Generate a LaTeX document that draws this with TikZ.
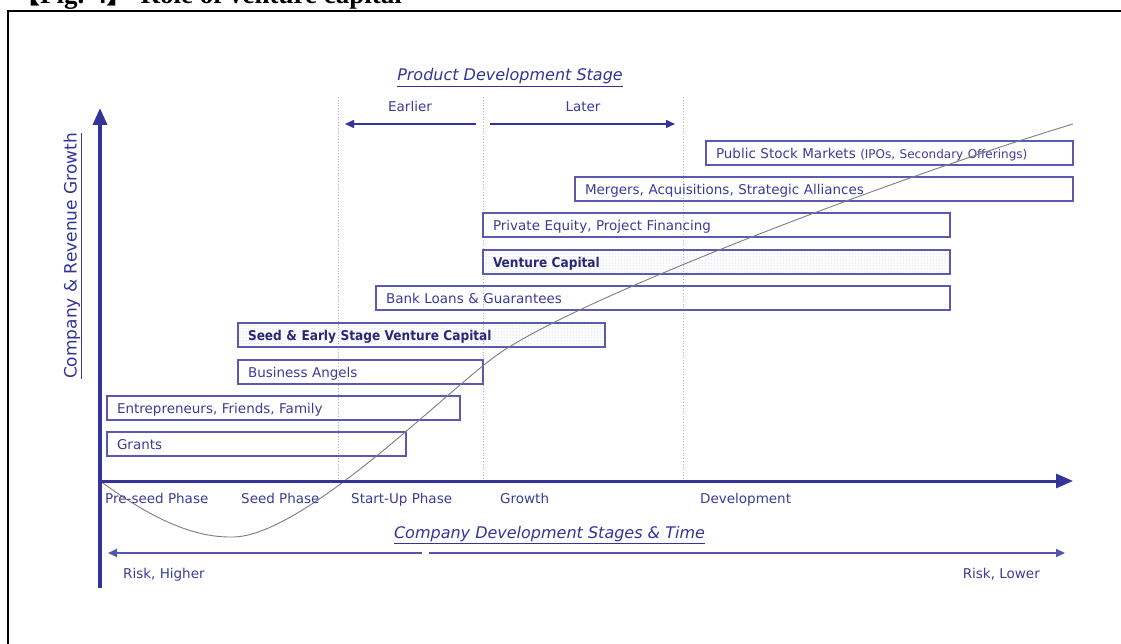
\documentclass[tikz,border=0pt]{standalone}
\usepackage{fontspec}
\setmainfont{DejaVu Sans}
\newfontfamily\condfont{DejaVu Sans Condensed}
\newfontfamily\titlefont{Liberation Serif}
\newfontfamily\cjkfont{Noto Sans CJK SC}
\usetikzlibrary{arrows.meta,patterns}
\definecolor{navy}{RGB}{51,51,153}
\definecolor{boxblue}{RGB}{90,90,175}
\definecolor{txtblue}{RGB}{60,60,150}
\definecolor{darktxt}{RGB}{40,40,120}
\definecolor{dotline}{RGB}{175,175,220}
\definecolor{curvegray}{RGB}{125,125,125}
\definecolor{patblue}{RGB}{175,175,205}
\definecolor{riskblue}{RGB}{85,85,170}
\begin{document}
\begin{tikzpicture}[x=1pt,y=-1pt,
  box/.style={draw=boxblue, line width=1.1pt, minimum height=24pt, inner xsep=10pt, inner ysep=0pt,
    text height=12.5pt, text depth=1.5pt,
    anchor=north west, align=left, text=txtblue, outer sep=0pt,
    font=\fontsize{13.5}{16}\selectfont},
  dotbox/.style={box, pattern=dots, pattern color=patblue, text=darktxt,
    font=\condfont\bfseries\fontsize{13.5}{16}\selectfont},
  lbl/.style={text=txtblue, inner sep=0pt, font=\fontsize{13.5}{16}\selectfont},
  head/.style={text=navy, inner sep=0pt, font=\itshape\fontsize{16}{19}\selectfont},
  vline/.style={dotline, dotted, line width=0.8pt},
  smallarrow/.style={navy, line width=1.5pt, -{Triangle[length=9pt,width=8pt]}},
  riskarrow/.style={riskblue, line width=2pt, -{Triangle[length=9pt,width=8pt]}},
  axis/.style={navy, line width=3.5pt, -{Triangle[length=17pt,width=14pt]}}
]
\useasboundingbox (0,0) rectangle (1121,644);
\fill[white] (0,0) rectangle (1121,644);

% frame and cut title
\coordinate (fbl) at (8,660);
\coordinate (ftl) at (8,11);
\coordinate (ftr) at (1135,11);
\draw[black, line width=1.3pt] (fbl) -- (ftl) -- (ftr);
\node[anchor=base west, inner sep=0pt, font=\titlefont\bfseries\fontsize{27}{30}\selectfont] (title) at (13,3.5)
  {{\cjkfont 【}Fig. 4{\cjkfont 】} Role of venture capital};

% dotted stage lines
\coordinate (v1t) at (338,97); \coordinate (v1b) at (338,481);
\coordinate (v2t) at (483,97); \coordinate (v2b) at (483,481);
\coordinate (v3t) at (683,97); \coordinate (v3b) at (683,481);
\draw[vline] (v1t) -- (v1b);
\draw[vline] (v2t) -- (v2b);
\draw[vline] (v3t) -- (v3b);

% headings
\node[head, anchor=base] (pds) at (510,81) {\underline{Product Development Stage}};
\node[lbl, anchor=base] (earlier) at (410,111.5) {Earlier};
\node[lbl, anchor=base] (later) at (583,111.5) {Later};
\coordinate (ea1) at (476,124); \coordinate (ea2) at (345,124);
\coordinate (la1) at (490,124); \coordinate (la2) at (675,124);
\draw[smallarrow] (ea1) -- (ea2);
\draw[smallarrow] (la1) -- (la2);

% financing boxes
\node[box, text width=347pt] (psm) at (706,141)
  {Public Stock Markets {\fontsize{12}{14}\selectfont(IPOs, Secondary Offerings)}};
\node[box, text width=478pt] (mas) at (575,177) {Mergers, Acquisitions, Strategic Alliances};
\node[box, text width=447pt] (pe) at (483,213) {Private Equity, Project Financing};
\node[dotbox, text width=447pt] (vc) at (483,250) {Venture Capital};
\node[box, text width=554pt] (bank) at (376,286) {Bank Loans \& Guarantees};
\node[dotbox, text width=347pt] (seed) at (238,323) {Seed \& Early Stage Venture Capital};
\node[box, text width=225pt] (ba) at (238,360) {Business Angels};
\node[box, text width=333pt] (eff) at (107,396) {Entrepreneurs, Friends, Family};
\node[box, text width=279pt] (grants) at (107,432) {Grants};

% growth curve
\coordinate (c0) at (100,481);
\coordinate (c1) at (230,537);
\coordinate (c2) at (497,355);
\coordinate (c3) at (1073,124);
\draw[curvegray, line width=0.9pt]
  (c0) .. controls (140,510) and (185,537) .. (c1)
       .. controls (300,540) and (445,392) .. (c2)
       .. controls (577,298) and (900,176) .. (c3);

% axes
\coordinate (ybot) at (100,588);
\coordinate (ytop) at (100,108);
\coordinate (xorg) at (98.25,481);
\coordinate (xend) at (1073,481);
\draw[axis] (ybot) -- (ytop);
\draw[axis, line width=3pt] (xorg) -- (xend);
\node[head, rotate=90, anchor=base, font=\fontsize{17}{20}\selectfont] (ylab) at (76.5,256)
  {\underline{Company \& Revenue Growth}};

% stage labels
\node[lbl, anchor=base west] (pre) at (105,503) {Pre-seed Phase};
\node[lbl, anchor=base west] (seedph) at (241,503) {Seed Phase};
\node[lbl, anchor=base west] (start) at (351,503) {Start-Up Phase};
\node[lbl, anchor=base west] (growth) at (500,503) {Growth};
\node[lbl, anchor=base west] (dev) at (700,503) {Development};
\node[head, anchor=base] (cds) at (549.5,538) {\underline{Company Development Stages \& Time}};

% risk arrows
\coordinate (rl1) at (422,553); \coordinate (rl2) at (108,553);
\coordinate (rr1) at (429,553); \coordinate (rr2) at (1065,553);
\draw[riskarrow] (rl1) -- (rl2);
\draw[riskarrow] (rr1) -- (rr2);
\node[lbl, anchor=base west] (rh) at (123,578) {Risk, Higher};
\node[lbl, anchor=base east] (rlow) at (1040,578) {Risk, Lower};
\end{tikzpicture}
\end{document}
